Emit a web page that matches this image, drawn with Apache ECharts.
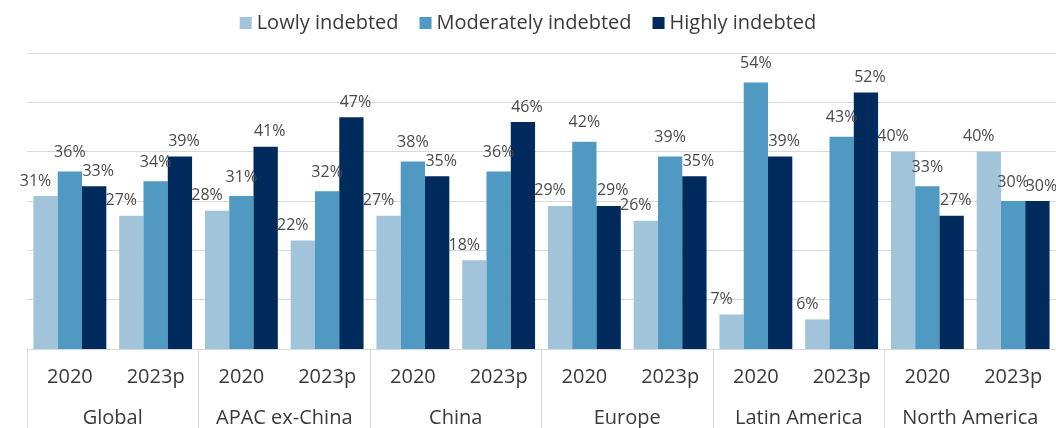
<!DOCTYPE html>
<html><head><meta charset="utf-8">
<script src="https://cdn.jsdelivr.net/npm/echarts@6/dist/echarts.min.js"></script>
<style>html,body{margin:0;padding:0;background:#fff}#c{width:1056px;height:428px}</style>
</head><body><div id="c"></div>
<script>
const years = ['2020','2023p','2020','2023p','2020','2023p','2020','2023p','2020','2023p','2020','2023p'];
const regions = ['Global','APAC ex-China','China','Europe','Latin America','North America'];
const seriesNames = ['Lowly indebted','Moderately indebted','Highly indebted'];
const lowly =    [31,27,28,22,27,18,29,26,7,6,40,40];
const moderate = [36,34,31,32,38,36,42,39,54,43,33,30];
const highly =   [33,39,41,47,35,46,29,35,39,52,27,30];
const colors = ['#A2C4DA','#4F99C2','#002B5C'];
const labelShift = [[-10,0],[0,-4],[4,0]];
const font = '"Open Sans", Roboto, sans-serif';
const txt = '#3a3a3a';
const chart = echarts.init(document.getElementById('c'));
const values = [lowly, moderate, highly];
chart.setOption({
  animation:false,
  textStyle:{fontFamily:font},
  legend:{top:8,left:'center',itemWidth:12,itemHeight:12,itemGap:21,icon:'rect',
    textStyle:{fontSize:20,color:txt,fontFamily:font,padding:[0,0,0,0]}},
  grid:{left:27,right:0,top:53,bottom:79},
  xAxis:[
    {type:'category',data:years,position:'bottom',
     axisLine:{lineStyle:{color:'#d9d9d9',width:1}},axisTick:{show:false},
     axisLabel:{fontSize:20,color:txt,margin:18,interval:0,fontFamily:font}},
    {type:'category',data:regions,position:'bottom',offset:0,
     axisLine:{show:false},
     axisTick:{show:true,length:80,lineStyle:{color:'#d9d9d9'}},
     axisLabel:{fontSize:20,color:txt,margin:59,interval:0,fontFamily:font}}
  ],
  yAxis:{type:'value',min:0,max:60,interval:10,axisLabel:{show:false},
    splitLine:{lineStyle:{color:'#d9d9d9'}},axisLine:{show:false},axisTick:{show:false}},
  series: seriesNames.map((n,i)=>({
    name:n,type:'bar',data:values[i],xAxisIndex:0,
    barGap:'0%',barCategoryGap:'15%',
    itemStyle:{color:colors[i]},
    label:{show:true,position:'top',distance:7,offset:labelShift[i],formatter:'{c}%',fontSize:16,color:'#4a4a4a',fontFamily:font}
  }))
});
</script></body></html>
